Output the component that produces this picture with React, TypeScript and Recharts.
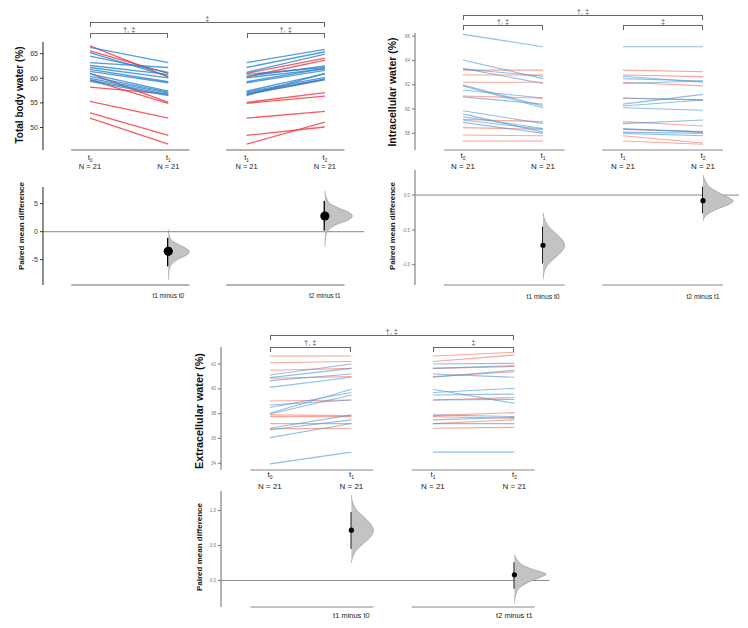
import { ComposedChart, Line, Scatter, XAxis, YAxis, ReferenceLine } from "recharts";

const FONT = '"Liberation Sans", Arial, Helvetica, sans-serif';

// shared labels
const timeTicks = [0, 1, 2, 3];
const timeSubs = ["0", "1", "1", "2"];
const groupN = "N = 21";
const diffTicks = [1, 3];
const diffNames = ["t1 minus t0", "t2 minus t1"];
const axisSpans = [[-0.24, 1.27], [1.74, 3.25]];

// Total body water (%)
const tbwSex = ["F", "F", "F", "F", "F", "F", "F", "F", "M", "M", "M", "M", "M", "M", "M", "M", "M", "M", "M", "M", "M"];
const tbwT0 = [66.6, 65.6, 61.0, 59.7, 58.2, 55.3, 53.0, 51.9, 66.3, 65.2, 64.5, 63.2, 62.6, 62.2, 61.8, 61.4, 60.9, 60.4, 60.0, 59.7, 59.4];
const tbwT1 = [60.3, 61.0, 55.1, 54.9, 56.8, 51.9, 48.4, 46.6, 63.2, 60.4, 61.2, 62.2, 60.8, 60.1, 59.3, 59.1, 57.4, 57.2, 57.0, 56.7, 56.5];
const tbwT2 = [63.7, 64.1, 57.1, 56.4, 59.8, 53.3, 50.1, 51.1, 65.9, 62.5, 64.9, 65.4, 62.2, 61.9, 62.0, 61.6, 60.9, 60.2, 59.9, 59.7, 61.0];
const tbwTicks = [50, 55, 60, 65];
const tbwDiffTicks = [-5, 0, 5];
const tbwMean = [-3.5, 2.8];
const tbwLow = [-6.2, 0.2];
const tbwHigh = [-1.1, 5.5];
const tbwDensity1 = [[0.4, 0], [-0.5, 0.01], [-1.5, 0.04], [-2.3, 0.13], [-3.0, 0.23], [-3.5, 0.27], [-4.1, 0.24], [-4.8, 0.14], [-5.7, 0.05], [-6.8, 0.012], [-8.6, 0]];
const tbwDensity2 = [[7.3, 0], [6.0, 0.02], [5.0, 0.07], [4.2, 0.18], [3.5, 0.3], [2.8, 0.35], [2.1, 0.3], [1.3, 0.15], [0.4, 0.05], [-0.8, 0.012], [-2.7, 0]];
const tbwBrackets = ["‡", "†, ‡", "†, ‡"];

// Intracellular water (%)
const icwSex = ["F", "F", "F", "F", "F", "F", "F", "F", "M", "M", "M", "M", "M", "M", "M", "M", "M", "M", "M", "M", "M"];
const icwT0 = [63.2, 62.8, 62.2, 61.07, 59.15, 58.47, 57.86, 57.37, 66.14, 64.03, 63.29, 61.97, 61.9, 61.56, 61.0, 59.86, 59.37, 59.1, 58.9, 63.34, 59.6];
const icwT1 = [63.2, 62.8, 62.2, 60.88, 58.96, 58.33, 57.8, 57.37, 65.12, 62.5, 62.7, 60.25, 60.1, 60.9, 60.4, 58.8, 58.4, 58.33, 58.0, 62.1, 58.1];
const icwT2 = [63.07, 62.66, 61.9, 60.74, 58.6, 58.1, 57.2, 57.1, 65.12, 62.3, 62.2, 60.74, 59.9, 60.75, 61.2, 59.1, 58.1, 58.15, 57.8, 62.3, 58.0];
const icwTicks = [58, 60, 62, 64, 66];
const icwDiffTicks = [-1, -0.5, 0];
const icwMean = [-0.72, -0.08];
const icwLow = [-0.98, -0.26];
const icwHigh = [-0.45, 0.12];
const icwDensity1 = [[-0.25, 0], [-0.35, 0.02], [-0.45, 0.07], [-0.55, 0.16], [-0.64, 0.24], [-0.72, 0.27], [-0.8, 0.24], [-0.9, 0.15], [-1.0, 0.06], [-1.1, 0.015], [-1.21, 0]];
const icwDensity2 = [[0.29, 0], [0.2, 0.03], [0.1, 0.1], [0.02, 0.22], [-0.04, 0.33], [-0.08, 0.38], [-0.13, 0.33], [-0.19, 0.2], [-0.25, 0.09], [-0.31, 0.025], [-0.37, 0]];
const icwBrackets = ["†, ‡", "†, ‡", "‡"];

// Extracellular water (%)
const ecwSex = ["F", "F", "M", "F", "M", "M", "F", "M", "F", "M", "M", "M", "M", "F", "F", "M", "F", "M", "M", "M", "F"];
const ecwT0 = [42.64, 42.1, 41.11, 41.5, 40.9, 40.66, 40.85, 40.12, 39.02, 38.5, 38.03, 37.97, 38.7, 37.76, 37.2, 36.82, 36.77, 36.7, 36.07, 33.95, 37.9];
const ecwT1 = [42.64, 42.2, 42.0, 41.65, 41.65, 41.2, 40.98, 40.93, 39.1, 39.7, 39.96, 39.5, 39.1, 37.76, 37.2, 37.9, 36.82, 37.5, 37.2, 34.9, 37.84];
const ecwT2 = [42.94, 42.72, 42.05, 41.8, 41.87, 40.93, 41.38, 41.5, 39.3, 40.04, 38.83, 39.58, 39.15, 37.62, 37.5, 37.76, 36.9, 37.7, 37.2, 34.9, 38.08];
const ecwTicks = [34, 36, 38, 40, 42];
const ecwDiffTicks = [0, 0.5, 1];
const ecwMean = [0.72, 0.08];
const ecwLow = [0.45, -0.12];
const ecwHigh = [0.98, 0.26];
const ecwDensity1 = [[1.22, 0], [1.1, 0.02], [1.0, 0.07], [0.9, 0.16], [0.8, 0.24], [0.72, 0.27], [0.63, 0.24], [0.53, 0.15], [0.43, 0.06], [0.33, 0.015], [0.25, 0]];
const ecwDensity2 = [[0.37, 0], [0.3, 0.03], [0.22, 0.1], [0.16, 0.22], [0.12, 0.33], [0.09, 0.39], [0.05, 0.33], [-0.01, 0.2], [-0.08, 0.09], [-0.17, 0.025], [-0.33, 0]];
const ecwBrackets = ["†, ‡", "†, ‡", "‡"];

const bold = {
  red: "#f2333f", blue: "#2a84cc", lineOpacity: 0.8, lineWidth: 1.3, spine: "#333", tickFont: 7, tickFill: "#333",
  nFont: 7.5, tGap: 10.5, nGap: 19.5, subDy: 1.2, diffFont: 6.5, diffGap: 13.5, dotR: 4.6, ciWidth: 2.6, segment: "#666",
};
const light = {
  red: "#f26a55", blue: "#4a92d4", lineOpacity: 0.6, lineWidth: 1.1, spine: "#777", tickFont: 4.5, tickFill: "#777",
  nFont: 8, tGap: 7.5, nGap: 18.5, subDy: 2, diffFont: 6.8, diffGap: 13.5, dotR: 2.6, ciWidth: 1.7, segment: "#888",
};

const panels = [
  {
    key: "tbw", title: "Total body water (%)", titleAt: [19, 95], titleSize: 10, diffAt: [20.5, 226],
    sex: tbwSex, t0: tbwT0, t1: tbwT1, t2: tbwT2, ticks: tbwTicks, diffTicksY: tbwDiffTicks, digits: 0,
    mean: tbwMean, low: tbwLow, high: tbwHigh, density: [tbwDensity1, tbwDensity2], brackets: tbwBrackets,
    x0: 90, ux: 78.3, xDomain: [-0.6, 3.5],
    top: { y: 42, h: 108, domain: [45.43, 67.38] }, bottom: { y: 187, h: 98, domain: [-9.52, 7.98] },
    outerY: 22, innerY: 33, s: bold,
  },
  {
    key: "icw", title: "Intracellular water (%)", titleAt: [392, 92], titleSize: 10.5, diffAt: [392, 226],
    sex: icwSex, t0: icwT0, t1: icwT1, t2: icwT2, ticks: icwTicks, diffTicksY: icwDiffTicks, digits: 1,
    mean: icwMean, low: icwLow, high: icwHigh, density: [icwDensity1, icwDensity2], brackets: icwBrackets,
    x0: 463, ux: 80, xDomain: [-0.6, 3.45],
    top: { y: 33, h: 117, domain: [56.63, 66.25] }, bottom: { y: 170, h: 115, domain: [-1.29, 0.36] },
    outerY: 15, innerY: 25, s: light,
  },
  {
    key: "ecw", title: "Extracellular water (%)", titleAt: [198.5, 411], titleSize: 10.8, diffAt: [199, 547],
    sex: ecwSex, t0: ecwT0, t1: ecwT1, t2: ecwT2, ticks: ecwTicks, diffTicksY: ecwDiffTicks, digits: 1,
    mean: ecwMean, low: ecwLow, high: ecwHigh, density: [ecwDensity1, ecwDensity2], brackets: ecwBrackets,
    x0: 269.5, ux: 81.5, xDomain: [-0.6, 3.43],
    top: { y: 347, h: 123, domain: [33.46, 43.37] }, bottom: { y: 490.7, h: 116, domain: [-0.38, 1.28] },
    outerY: 335, innerY: 346.7, s: { ...light, diffFont: 7.5, diffGap: 11.5, nGap: 19.5 },
  },
];

const YW = 30;
const MT = 6;
const XH = 26;

function TimeTick(props: any) {
  const { x, y, payload, s } = props;
  const i = timeTicks.indexOf(payload.value);
  return (
    <g>
      <text x={x} y={y + s.tGap} textAnchor="middle" fontSize={s.nFont} fill="#222" fontFamily={FONT}>
        t<tspan fontSize={s.nFont * 0.62} dy={s.subDy}>{timeSubs[i]}</tspan>
      </text>
      <text x={x} y={y + s.nGap} textAnchor="middle" fontSize={s.nFont} fill="#222" fontFamily={FONT}>{groupN}</text>
    </g>
  );
}

function DiffTick(props: any) {
  const { x, y, payload, s } = props;
  const i = diffTicks.indexOf(payload.value);
  return (
    <text x={x} y={y + s.diffGap} textAnchor="middle" fontSize={s.diffFont} fill="#222" fontFamily={FONT}>{diffNames[i]}</text>
  );
}

function PairedPanel({ p }: { p: any }) {
  const s = p.s;
  const left = p.x0 + p.xDomain[0] * p.ux;
  const plotW = (p.xDomain[1] - p.xDomain[0]) * p.ux;
  const w = YW + plotW + 4;
  const topMin = p.top.domain[0];
  const botMin = p.bottom.domain[0];
  const px = (i: number) => p.x0 + i * p.ux;
  const spans = [[0, 3, p.outerY, p.brackets[0]], [0, 1, p.innerY, p.brackets[1]], [2, 3, p.innerY, p.brackets[2]]];

  return (
    <>
      {spans.map(([a, b, y, label], k) => (
        <div key={k}>
          <div style={{ position: "absolute", left: px(a as number), top: y as number, width: px(b as number) - px(a as number), height: 5, borderTop: "1px solid #666", borderLeft: "1px solid #666", borderRight: "1px solid #666", boxSizing: "border-box" }} />
          <div style={{ position: "absolute", left: (px(a as number) + px(b as number)) / 2, top: (y as number) - 0.5, transform: "translate(-50%, -100%)", fontSize: 7.5, lineHeight: 1, color: "#555", whiteSpace: "nowrap" }}>{label}</div>
        </div>
      ))}
      <div style={{ position: "absolute", left: p.titleAt[0], top: p.titleAt[1], transform: "translate(-50%, -50%) rotate(-90deg)", fontSize: p.titleSize, fontWeight: 700, color: "#111", whiteSpace: "nowrap" }}>{p.title}</div>
      <div style={{ position: "absolute", left: p.diffAt[0], top: p.diffAt[1], transform: "translate(-50%, -50%) rotate(-90deg)", fontSize: 8, fontWeight: 700, color: "#1a1a1a", whiteSpace: "nowrap" }}>Paired mean difference</div>

      <div style={{ position: "absolute", left: left - YW, top: p.top.y - MT }}>
        <ComposedChart width={w} height={MT + p.top.h + XH} margin={{ top: MT, right: 4, bottom: 0, left: 0 }}>
          <XAxis type="number" dataKey="x" domain={p.xDomain} allowDataOverflow ticks={timeTicks} axisLine={false} tickLine={false} tickSize={0} tickMargin={0} height={XH} interval={0} tick={(t: any) => <TimeTick {...t} s={s} />} />
          <YAxis type="number" dataKey="y" domain={p.top.domain} allowDataOverflow ticks={p.ticks} width={YW} axisLine={{ stroke: s.spine, strokeWidth: 1.1 }} tickLine={{ stroke: s.spine }} tickSize={3} tickMargin={2} tick={{ fontSize: s.tickFont, fill: s.tickFill, fontFamily: FONT }} />
          {axisSpans.map((sp, k) => (
            <ReferenceLine key={k} segment={[{ x: sp[0], y: topMin }, { x: sp[1], y: topMin }]} stroke={s.segment} strokeWidth={1.2} ifOverflow="visible" />
          ))}
          {p.t0.map((v: number, i: number) => (
            <Line
              key={i}
              data={[{ x: 0, y: v }, { x: 1, y: p.t1[i] }, { x: 1.5, y: null }, { x: 2, y: p.t1[i] }, { x: 3, y: p.t2[i] }]}
              dataKey="y"
              stroke={p.sex[i] === "F" ? s.red : s.blue}
              strokeOpacity={s.lineOpacity}
              strokeWidth={s.lineWidth}
              dot={false}
              activeDot={false}
              connectNulls={false}
              isAnimationActive={false}
            />
          ))}
        </ComposedChart>
      </div>

      <div style={{ position: "absolute", left: left - YW, top: p.bottom.y - MT }}>
        <ComposedChart width={w} height={MT + p.bottom.h + XH} margin={{ top: MT, right: 4, bottom: 0, left: 0 }}>
          <XAxis type="number" dataKey="x" domain={p.xDomain} allowDataOverflow ticks={diffTicks} axisLine={false} tickLine={false} tickSize={0} tickMargin={0} height={XH} interval={0} tick={(t: any) => <DiffTick {...t} s={s} />} />
          <YAxis type="number" dataKey="y" domain={p.bottom.domain} allowDataOverflow ticks={p.diffTicksY} width={YW} axisLine={{ stroke: s.spine, strokeWidth: 1.1 }} tickLine={{ stroke: s.spine }} tickSize={3} tickMargin={2} tickFormatter={(v: number) => v.toFixed(p.digits)} tick={{ fontSize: s.tickFont, fill: s.tickFill, fontFamily: FONT }} />
          {axisSpans.map((sp, k) => (
            <ReferenceLine key={k} segment={[{ x: sp[0], y: botMin }, { x: sp[1], y: botMin }]} stroke={s.segment} strokeWidth={1.2} ifOverflow="visible" />
          ))}
          <ReferenceLine y={0} stroke="#888" strokeWidth={1} />
          {diffTicks.map((base, k) => (
            <Scatter
              key={"d" + k}
              data={p.density[k].map(([v, wd]: number[]) => ({ x: base + wd, y: v }))}
              dataKey="y"
              line={{ fill: "#c3c3c3", stroke: "#8e8e8e", strokeWidth: 0.6 }}
              lineType="joint"
              lineJointType="monotoneY"
              shape={() => <g />}
              isAnimationActive={false}
            />
          ))}
          {diffTicks.map((base, k) => (
            <Line
              key={"c" + k}
              data={[{ x: base, y: p.low[k] }, { x: base, y: p.high[k] }]}
              dataKey="y"
              stroke="#000"
              strokeWidth={s.ciWidth}
              dot={false}
              activeDot={false}
              isAnimationActive={false}
            />
          ))}
          {diffTicks.map((base, k) => (
            <Scatter
              key={"m" + k}
              data={[{ x: base, y: p.mean[k] }]}
              dataKey="y"
              fill="#000"
              shape={(d: any) => <circle cx={d.cx} cy={d.cy} r={s.dotR} fill="#000" />}
              isAnimationActive={false}
            />
          ))}
        </ComposedChart>
      </div>
    </>
  );
}

export default function App() {
  return (
    <div style={{ position: "absolute", left: 0, top: 0, width: 748, height: 628, background: "#fff", fontFamily: FONT, overflow: "hidden" }}>
      {panels.map((p) => (
        <PairedPanel key={p.key} p={p} />
      ))}
    </div>
  );
}
